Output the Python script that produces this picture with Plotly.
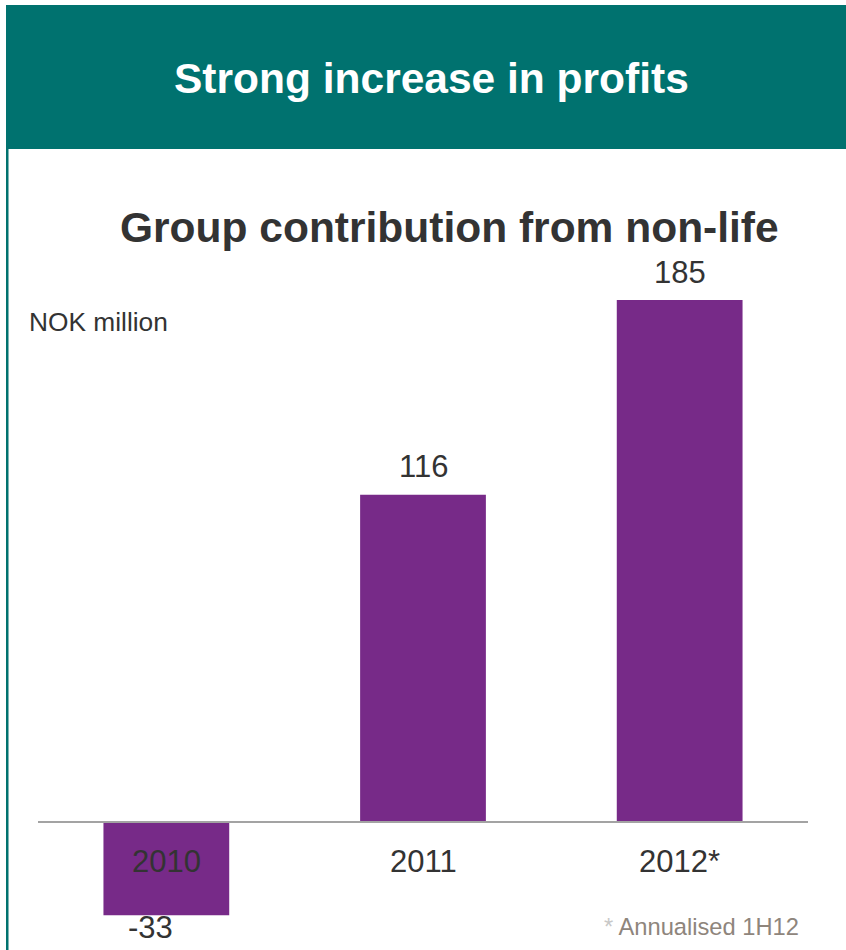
import plotly.graph_objects as go

# Group contribution from non-life, NOK million
years = ["2010", "2011", "2012*"]
contribution = [-33, 116, 185]
value_labels = ["-33", "116", "185"]

TEAL = "#00726F"
PURPLE = "#772A88"
DARK = "#333333"
FONT = "Liberation Sans, Arial, sans-serif"

fig = go.Figure()

fig.add_trace(go.Bar(
    x=years,
    y=contribution,
    marker=dict(color=PURPLE, line=dict(width=0)),
    hoverinfo="skip",
))

annotations = []

# Value labels above / below each bar (category index positions)
for i, (val, lab) in enumerate(zip(contribution, value_labels)):
    if val >= 0:
        annotations.append(dict(x=i, y=val, xref="x", yref="y", text=lab,
                                showarrow=False, yanchor="middle", yshift=28,
                                font=dict(family=FONT, size=31, color=DARK)))
    else:
        annotations.append(dict(x=i, y=val, xref="x", yref="y", text=lab,
                                showarrow=False, yanchor="middle", yshift=-12,
                                xshift=-16,
                                font=dict(family=FONT, size=31, color=DARK)))

# Category labels just below the zero line
for i, yr in enumerate(years):
    annotations.append(dict(x=i, y=0, xref="x", yref="y", text=yr,
                            showarrow=False, yanchor="middle", yshift=-39,
                            font=dict(family=FONT, size=31, color=DARK)))

# Header title
annotations.append(dict(x=431, y=950 - 78, xref="paper", yref="paper",
                        text="<b>Strong increase in profits</b>", showarrow=False,
                        xanchor="center", yanchor="middle",
                        font=dict(family=FONT, size=42.5, color="white")))

# Chart title
annotations.append(dict(x=450, y=950 - 227, xref="paper", yref="paper",
                        text="<b>Group contribution from non-life</b>", showarrow=False,
                        xanchor="center", yanchor="middle",
                        font=dict(family=FONT, size=42.5, color=DARK)))

# Unit label
annotations.append(dict(x=27, y=950 - 322, xref="paper", yref="paper",
                        text="NOK million", showarrow=False,
                        xanchor="left", yanchor="middle",
                        font=dict(family=FONT, size=26.3, color=DARK)))

# Footnote
annotations.append(dict(x=801, y=950 - 927, xref="paper", yref="paper",
                        text="<span style='color:#C8C8C8'>*</span> Annualised 1H12",
                        showarrow=False, xanchor="right", yanchor="middle",
                        font=dict(family=FONT, size=23.7, color="#8E857C")))

# Convert pixel-positioned paper annotations into paper fractions
W, H = 846, 950
ML, MR, MT, MB = 38, 38, 300, 15
pw, ph = W - ML - MR, H - MT - MB
for a in annotations:
    if a.get("xref") == "paper":
        a["x"] = (a["x"] - ML) / pw
        a["y"] = (a["y"] - MB) / ph

shapes = [
    # teal header band
    dict(type="rect", xref="paper", yref="paper",
         x0=(6 - ML) / pw, x1=(846 - ML) / pw,
         y0=(H - 149 - MB) / ph, y1=(H - 5 - MB) / ph,
         fillcolor=TEAL, line=dict(width=0), layer="below"),
    # left border line
    dict(type="rect", xref="paper", yref="paper",
         x0=(6 - ML) / pw, x1=(8.5 - ML) / pw,
         y0=(0 - MB) / ph, y1=(H - 149 - MB) / ph,
         fillcolor=TEAL, line=dict(width=0), layer="below"),
    # zero line
    dict(type="line", xref="paper", yref="y", x0=0, x1=1, y0=0, y1=0,
         line=dict(color="#A3A3A3", width=2), layer="above"),
]

fig.update_layout(
    width=W, height=H,
    margin=dict(l=ML, r=MR, t=MT, b=MB, pad=0),
    paper_bgcolor="white", plot_bgcolor="white",
    showlegend=False,
    bargap=0.51,
    xaxis=dict(type="category", range=[-0.5, 2.5], showticklabels=False,
               showgrid=False, zeroline=False, showline=False, ticks=""),
    yaxis=dict(range=[-40, 185], showticklabels=False, showgrid=False,
               zeroline=False, showline=False, ticks=""),
    annotations=annotations,
    shapes=shapes,
)

fig.write_html("out.html", config={"displayModeBar": False})
